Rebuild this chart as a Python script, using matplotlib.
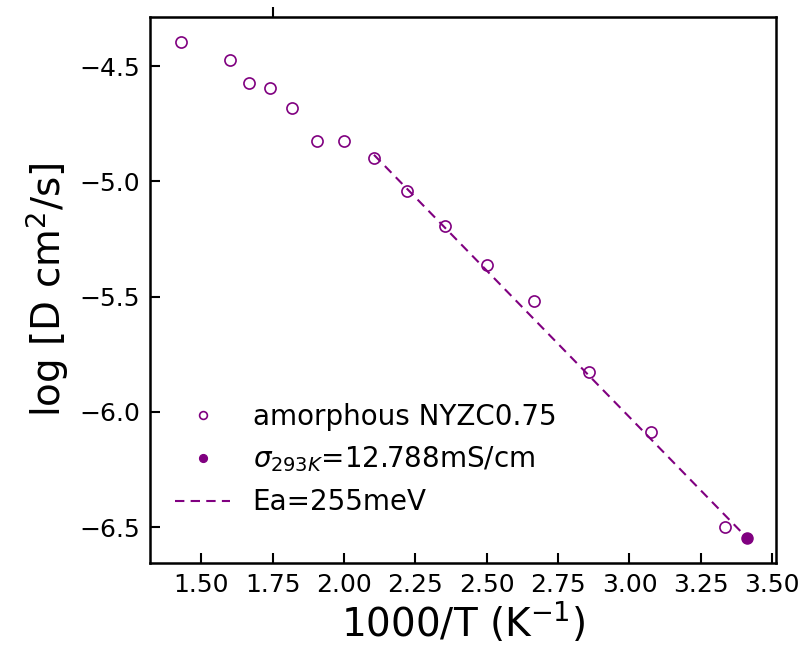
import matplotlib.pyplot as plt

plt.switch_backend("Agg")

# 1000/T (K^-1) and log D values
inv_t = [1.4286, 1.600, 1.667, 1.739, 1.818, 1.905, 2.000, 2.105,
         2.222, 2.353, 2.500, 2.667, 2.857, 3.077, 3.333]
log_d = [-4.396, -4.474, -4.574, -4.595, -4.682, -4.825, -4.825, -4.898,
         -5.041, -5.193, -5.361, -5.517, -5.829, -6.089, -6.500]

rt_x = [3.413]
rt_y = [-6.548]

fit_x = [2.105, 3.413]
fit_y = [-4.885, -6.548]

color = "purple"

fig = plt.figure(figsize=(8.06, 6.45), dpi=100)
ax = fig.add_axes([0.186, 0.127, 0.777, 0.847])

ax.plot(inv_t, log_d, "o", mfc="none", mec=color, mew=1.2, ms=8,
        label="amorphous NYZC0.75")
ax.plot(rt_x, rt_y, "o", color=color, ms=8,
        label=r"$\sigma_{293K}$=12.788mS/cm")
ax.plot(fit_x, fit_y, "--", color=color, lw=1.5, dashes=(4.5, 3),
        label="Ea=255meV")

ax.set_xlim(1.32, 3.514)
ax.set_ylim(-6.656, -4.286)
ax.set_xticks([1.50, 1.75, 2.00, 2.25, 2.50, 2.75, 3.00, 3.25, 3.50])
ax.set_xticklabels(["1.50", "1.75", "2.00", "2.25", "2.50", "2.75", "3.00", "3.25", "3.50"])
ax.set_yticks([-6.5, -6.0, -5.5, -5.0, -4.5])

ax.tick_params(direction="in", length=7, width=1.5, labelsize=18, pad=7)
for s in ax.spines.values():
    s.set_linewidth(1.8)

# lone outward tick on the top axis
top = ax.secondary_xaxis("top")
top.set_xticks([1.75])
top.set_xticklabels([""])
top.tick_params(direction="out", length=7, width=1.5)

ax.set_xlabel(r"1000/T (K$^{-1}$)", fontsize=28, labelpad=2)
ax.set_ylabel(r"log [D cm$^2$/s]", fontsize=28, labelpad=6)

ax.legend(loc="lower left", frameon=False, fontsize=20, handlelength=2.0,
          markerscale=0.7, bbox_to_anchor=(0.0, 0.04))

fig.savefig("out.png", dpi=100)
plt.close(fig)
